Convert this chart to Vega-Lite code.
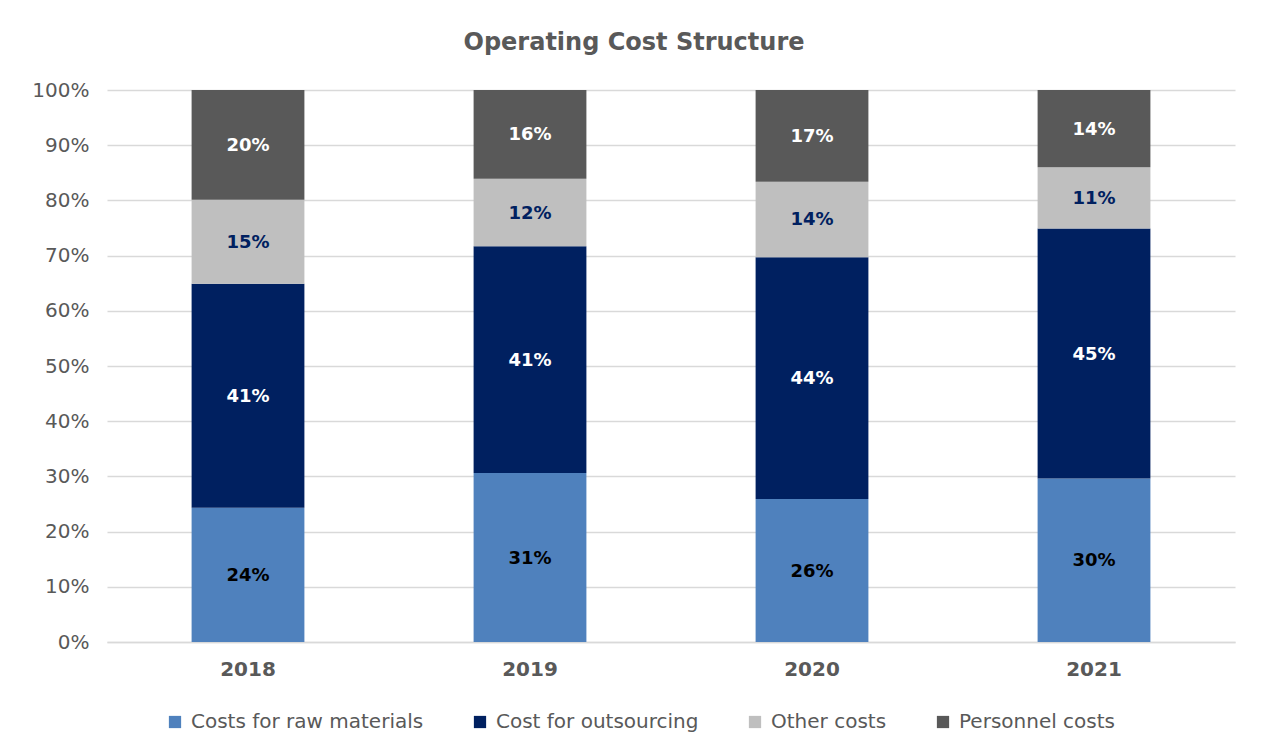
{
  "$schema": "https://vega.github.io/schema/vega-lite/v6.json",
  "width": 1128,
  "height": 552,
  "autosize": {"type": "none"},
  "padding": {"left": 107, "top": 90, "right": 27, "bottom": 111},
  "background": "white",
  "title": {
    "text": "Operating Cost Structure",
    "font": "DejaVu Sans",
    "fontSize": 24,
    "fontWeight": "bold",
    "color": "#595959",
    "anchor": "middle",
    "dx": -37,
    "offset": 25
  },
  "config": {
    "view": {"stroke": null},
    "font": "DejaVu Sans"
  },
  "data": {
    "values": [
      {"year": "2018", "cost": "Costs for raw materials", "share": 0.243},
      {"year": "2018", "cost": "Cost for outsourcing", "share": 0.406},
      {"year": "2018", "cost": "Other costs", "share": 0.152},
      {"year": "2018", "cost": "Personnel costs", "share": 0.199},
      {"year": "2019", "cost": "Costs for raw materials", "share": 0.306},
      {"year": "2019", "cost": "Cost for outsourcing", "share": 0.411},
      {"year": "2019", "cost": "Other costs", "share": 0.122},
      {"year": "2019", "cost": "Personnel costs", "share": 0.161},
      {"year": "2020", "cost": "Costs for raw materials", "share": 0.259},
      {"year": "2020", "cost": "Cost for outsourcing", "share": 0.438},
      {"year": "2020", "cost": "Other costs", "share": 0.137},
      {"year": "2020", "cost": "Personnel costs", "share": 0.166},
      {"year": "2021", "cost": "Costs for raw materials", "share": 0.296},
      {"year": "2021", "cost": "Cost for outsourcing", "share": 0.453},
      {"year": "2021", "cost": "Other costs", "share": 0.111},
      {"year": "2021", "cost": "Personnel costs", "share": 0.140}
    ]
  },
  "transform": [
    {"calculate": "indexof(['Costs for raw materials', 'Cost for outsourcing', 'Other costs', 'Personnel costs'], datum.cost)", "as": "stackRank"}
  ],
  "encoding": {
    "x": {
      "field": "year",
      "type": "nominal",
      "scale": {"paddingInner": 0.6, "paddingOuter": 0.3},
      "axis": {
        "title": null,
        "labelAngle": 0,
        "labelFont": "DejaVu Sans",
        "labelFontSize": 20,
        "labelFontWeight": "bold",
        "labelColor": "#595959",
        "labelPadding": 17,
        "ticks": false,
        "domain": true,
        "domainColor": "#d9d9d9",
        "domainWidth": 1.5
      }
    },
    "y": {
      "field": "share",
      "type": "quantitative",
      "stack": "zero",
      "scale": {"domain": [0, 1], "nice": false},
      "axis": {
        "title": null,
        "values": [0, 0.1, 0.2, 0.3, 0.4, 0.5, 0.6, 0.7, 0.8, 0.9, 1],
        "format": ".0%",
        "labelFont": "DejaVu Sans",
        "labelFontSize": 20,
        "labelColor": "#595959",
        "labelPadding": 18,
        "ticks": false,
        "domain": false,
        "grid": true,
        "gridColor": "#d9d9d9",
        "gridWidth": 1.5
      }
    },
    "order": {"field": "stackRank", "type": "quantitative", "sort": "ascending"}
  },
  "layer": [
    {
      "mark": {"type": "bar"},
      "encoding": {
        "color": {
          "field": "cost",
          "type": "nominal",
          "scale": {
            "domain": ["Costs for raw materials", "Cost for outsourcing", "Other costs", "Personnel costs"],
            "range": ["#4f81bd", "#002060", "#bfbfbf", "#595959"]
          },
          "legend": {
            "title": null,
            "orient": "none",
            "direction": "horizontal",
            "legendX": 58,
            "legendY": 622,
            "symbolType": "square",
            "symbolSize": 150,
            "symbolStrokeWidth": 0,
            "labelFont": "DejaVu Sans",
            "labelFontSize": 20,
            "labelColor": "#595959",
            "labelOffset": 6,
            "columnPadding": 46,
            "labelLimit": 400
          }
        }
      }
    },
    {
      "mark": {"type": "text", "font": "DejaVu Sans", "fontSize": 18, "fontWeight": "bold", "baseline": "middle", "dy": 1},
      "encoding": {
        "y": {"field": "share", "type": "quantitative", "stack": "zero", "bandPosition": 0.5},
        "detail": {"field": "cost", "type": "nominal"},
        "text": {"field": "share", "type": "quantitative", "format": ".0%"},
        "color": {
          "condition": [
            {"test": "datum.cost === 'Costs for raw materials'", "value": "#000000"},
            {"test": "datum.cost === 'Other costs'", "value": "#002060"}
          ],
          "value": "#ffffff"
        }
      }
    }
  ]
}
